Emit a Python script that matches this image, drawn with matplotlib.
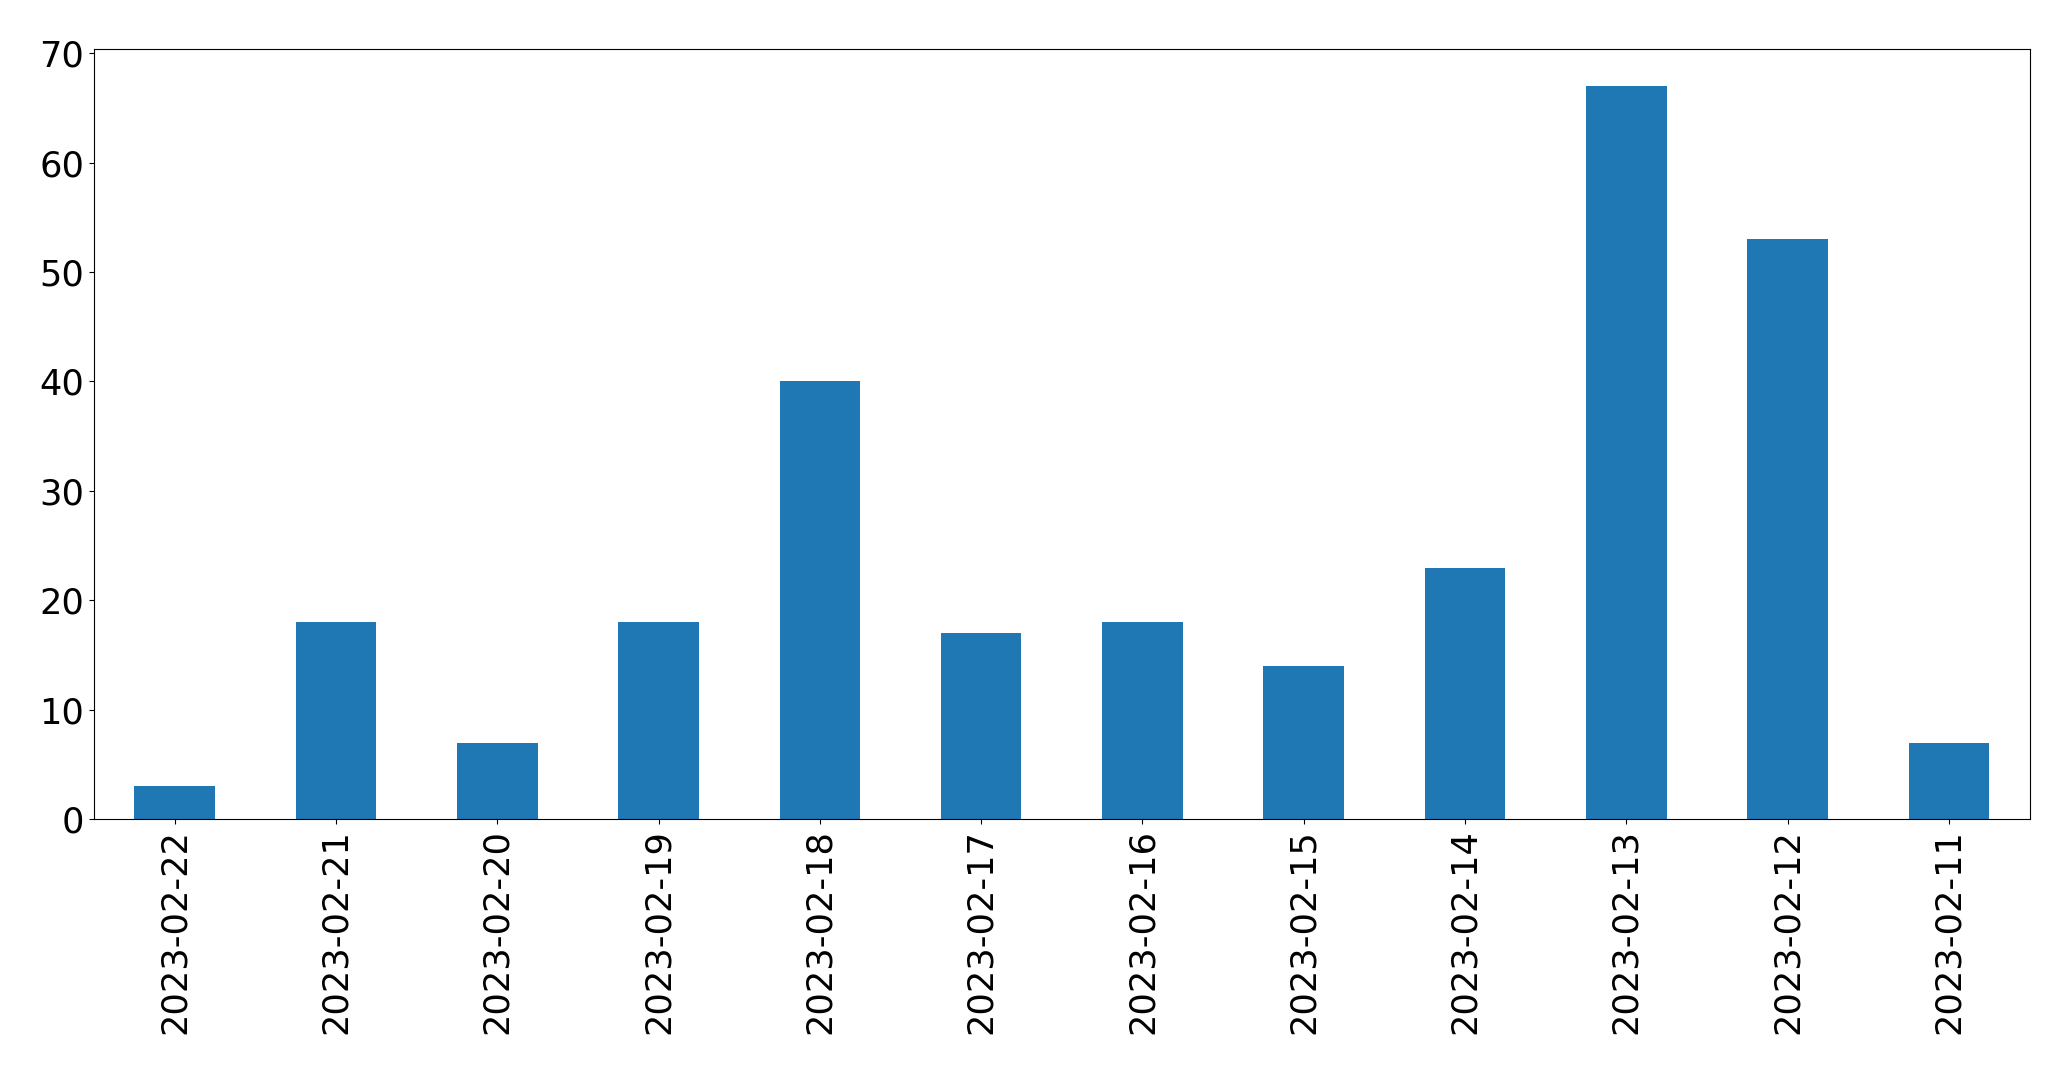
import matplotlib
matplotlib.use("Agg")
import matplotlib.pyplot as plt
import pandas as pd

dates = ["2023-02-22", "2023-02-21", "2023-02-20", "2023-02-19", "2023-02-18", "2023-02-17",
         "2023-02-16", "2023-02-15", "2023-02-14", "2023-02-13", "2023-02-12", "2023-02-11"]
counts = [3, 18, 7, 18, 40, 17, 18, 14, 23, 67, 53, 7]

s = pd.Series(counts, index=dates)

fig, ax = plt.subplots(figsize=(20.71, 10.71), dpi=100)
s.plot.bar(ax=ax, color="#1f77b4", width=0.5)
ax.tick_params(axis="both", labelsize=25.3)
ax.tick_params(axis="x", labelrotation=90)
fig.subplots_adjust(left=0.0454, right=0.980, top=0.954, bottom=0.235)
fig.savefig("out.png", dpi=100)
